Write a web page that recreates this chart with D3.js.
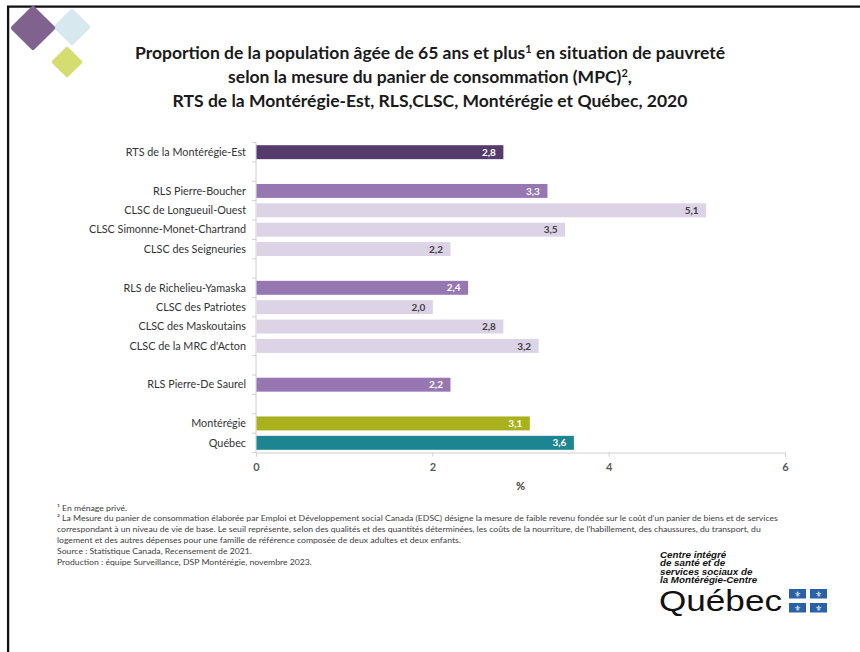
<!DOCTYPE html>
<html lang="fr">
<head>
<meta charset="utf-8">
<title>MPC 65 ans et plus</title>
<script src="https://d3js.org/d3.v7.min.js"></script>
<style>
  body { margin: 0; background: #fff; }
  svg { display: block; font-family: Lato, "Open Sans", sans-serif; }
</style>
</head>
<body>
<script>
// categories (empty string = gap between groups)
var categories = [
  "RTS de la Montérégie-Est", "",
  "RLS Pierre-Boucher", "CLSC de Longueuil-Ouest", "CLSC Simonne-Monet-Chartrand", "CLSC des Seigneuries", "",
  "RLS de Richelieu-Yamaska", "CLSC des Patriotes", "CLSC des Maskoutains", "CLSC de la MRC d'Acton", "",
  "RLS Pierre-De Saurel", "",
  "Montérégie", "Québec"
];
var values = [2.8, null, 3.3, 5.1, 3.5, 2.2, null, 2.4, 2.0, 2.8, 3.2, null, 2.2, null, 3.1, 3.6];
var levels = ["rts", null, "rls", "clsc", "clsc", "clsc", null, "rls", "clsc", "clsc", "clsc", null, "rls", null, "mont", "qc"];
var xTicks = [0, 2, 4, 6];

var titleLines = [
  ["Proportion de la population âgée de 65 ans et plus", "1", " en situation de pauvreté"],
  ["selon la mesure du panier de consommation (MPC)", "2", ","],
  ["RTS de la Montérégie-Est, RLS,CLSC, Montérégie et Québec, 2020", "", ""]
];
var notes = [
  "¹ En ménage privé.",
  "² La Mesure du panier de consommation élaborée par Emploi et Développement social Canada (EDSC) désigne la mesure de faible revenu fondée sur le coût d'un panier de biens et de services",
  "correspondant à un niveau de vie de base. Le seuil représente, selon des qualités et des quantités déterminées, les coûts de la nourriture, de l'habillement, des chaussures, du transport, du",
  "logement et des autres dépenses pour une famille de référence  composée de deux adultes et deux enfants.",
  "Source : Statistique Canada, Recensement de 2021.",
  "Production : équipe Surveillance, DSP Montérégie, novembre 2023."
];
var logoLines = ["Centre intégré", "de santé et de", "services sociaux de", "la Montérégie-Centre"];

var fills = { rts: "#553b6c", rls: "#9677b2", clsc: "#ddd3e7", mont: "#a9b11d", qc: "#1d8491" };
var labelFills = { rts: "#fff", rls: "#fff", clsc: "#404040", mont: "#fff", qc: "#fff" };

var W = 860, H = 652;
var svg = d3.select("body").append("svg").attr("width", W).attr("height", H);

// frame
svg.append("line").attr("x1", 8).attr("y1", 6).attr("x2", 8).attr("y2", H)
   .attr("stroke", "#111").attr("stroke-width", 2.5);
svg.append("line").attr("x1", 7).attr("y1", 6.5).attr("x2", W).attr("y2", 6.5)
   .attr("stroke", "#111").attr("stroke-width", 2.5);

// diamonds top-left
var diamonds = [
  { cx: 72, cy: 27, r: 19, c: "#d8e8ef" },
  { cx: 33, cy: 28, r: 23, c: "#80628f" },
  { cx: 67, cy: 62, r: 16, c: "#d6dd70" }
];
svg.append("g").selectAll("rect").data(diamonds).enter().append("rect")
  .attr("x", function(d) { return -d.r / Math.SQRT2; })
  .attr("y", function(d) { return -d.r / Math.SQRT2; })
  .attr("width", function(d) { return d.r * Math.SQRT2; })
  .attr("height", function(d) { return d.r * Math.SQRT2; })
  .attr("rx", 2)
  .attr("transform", function(d) { return "translate(" + d.cx + "," + d.cy + ") rotate(45)"; })
  .attr("fill", function(d) { return d.c; });
// cover the frame corner again
svg.append("rect").attr("x", 0).attr("y", 0).attr("width", W).attr("height", 5.3).attr("fill", "#fff");
svg.append("rect").attr("x", 0).attr("y", 0).attr("width", 6.8).attr("height", H).attr("fill", "#fff");

// title
var title = svg.append("g").attr("font-weight", "bold").attr("fill", "#1a1a1a").attr("text-anchor", "middle");
var titleBase = [59, 83, 107];
titleLines.forEach(function(parts, i) {
  var t = title.append("text").attr("x", 430).attr("y", titleBase[i]).attr("font-size", 17);
  t.append("tspan").text(parts[0]);
  if (parts[1]) t.append("tspan").attr("font-size", 11).attr("dy", -6).text(parts[1]);
  if (parts[2]) t.append("tspan").attr("dy", parts[1] ? 6 : 0).text(parts[2]);
});
// fit title font to reference width of the first line
var t0 = title.select("text").node().getComputedTextLength();
var titleSize = 17 * 591 / t0;
title.selectAll("text").attr("font-size", titleSize);

// scales
var x = d3.scaleLinear().domain([0, 6]).range([256, 785]);
var y = d3.scaleBand().domain(d3.range(categories.length)).range([142.5, 452.5])
  .paddingInner(0.28).paddingOuter(0.14);

// y axis line with ticks between categories
var axisColor = "#d0d0d0";
svg.append("line").attr("x1", x(0)).attr("x2", x(0))
  .attr("y1", y.range()[0]).attr("y2", y.range()[1])
  .attr("stroke", axisColor);
svg.append("g").selectAll("line").data(d3.range(categories.length + 1)).enter().append("line")
  .attr("x1", x(0) - 4).attr("x2", x(0))
  .attr("y1", function(i) { return y.range()[0] + i * y.step(); })
  .attr("y2", function(i) { return y.range()[0] + i * y.step(); })
  .attr("stroke", axisColor);

// x axis
var xAxis = svg.append("g").attr("transform", "translate(0," + y.range()[1] + ")")
  .call(d3.axisBottom(x).tickValues(xTicks).tickSize(4).tickPadding(7).tickFormat(d3.format("d")));
xAxis.select(".domain").attr("stroke", axisColor);
xAxis.selectAll(".tick line").attr("stroke", axisColor);
xAxis.selectAll(".tick text").attr("fill", "#595959").attr("font-size", 11)
  .attr("font-family", "Lato, sans-serif").attr("font-weight", "bold");
svg.append("text").attr("x", (x(0) + x(6)) / 2).attr("y", 490).attr("text-anchor", "middle")
  .attr("font-size", 11).attr("font-weight", "bold").attr("fill", "#404040").text("%");

// category labels
svg.append("g").selectAll("text").data(categories).enter().append("text")
  .attr("x", x(0) - 10)
  .attr("y", function(d, i) { return y(i) + y.bandwidth() / 2; })
  .attr("dy", "0.35em").attr("text-anchor", "end")
  .attr("font-size", 10.8).attr("fill", "#333")
  .text(function(d) { return d; });

// bars
var rows = categories.map(function(c, i) { return { i: i, v: values[i], lv: levels[i] }; })
  .filter(function(d) { return d.v !== null; });
svg.append("g").selectAll("rect").data(rows).enter().append("rect")
  .attr("x", x(0) + 0.5)
  .attr("y", function(d) { return y(d.i); })
  .attr("width", function(d) { return x(d.v) - x(0); })
  .attr("height", y.bandwidth())
  .attr("fill", function(d) { return fills[d.lv]; });

var fmt = function(v) { return d3.format(".1f")(v).replace(".", ","); };
svg.append("g").selectAll("text").data(rows).enter().append("text")
  .attr("x", function(d) { return x(d.v) - 7; })
  .attr("y", function(d) { return y(d.i) + y.bandwidth() / 2; })
  .attr("dy", "0.36em").attr("text-anchor", "end")
  .attr("font-size", 10).attr("font-weight", "bold")
  .attr("fill", function(d) { return labelFills[d.lv]; })
  .text(function(d) { return fmt(d.v); });

// footnotes (condensed: taller font squeezed horizontally)
var noteBase = [511, 521.5, 532, 543, 554, 565];
var noteG = svg.append("g").attr("fill", "#404040");
notes.forEach(function(n, i) {
  noteG.append("text").attr("x", 57).attr("y", noteBase[i]).attr("font-size", 7.8).text(n);
});
var n1 = noteG.selectAll("text").nodes()[1].getComputedTextLength();
var sx = 721 / n1;
noteG.attr("transform", "translate(57,0) scale(" + sx + ",1) translate(-57,0)");

// Québec logo
var logo = svg.append("g").attr("fill", "#111")
  .attr("transform", "translate(660,0) scale(1.18,1) translate(-660,0)");
logo.selectAll("text").data(logoLines).enter().append("text")
  .attr("x", 660).attr("y", function(d, i) { return 558 + i * 8.4; })
  .attr("font-family", "'Liberation Sans', Arial, sans-serif")
  .attr("font-size", 8.3).attr("font-weight", "bold").attr("font-style", "italic")
  .text(function(d) { return d; });
svg.append("text").attr("x", 659).attr("y", 611).attr("fill", "#111")
  .attr("font-family", "'Liberation Sans', Arial, sans-serif").attr("font-size", 29)
  .attr("textLength", 123).attr("lengthAdjust", "spacingAndGlyphs").text("Québec");
var flags = [[789, 589], [810, 589], [789, 603], [810, 603]];
var fl = svg.append("g");
fl.selectAll("rect").data(flags).enter().append("rect")
  .attr("x", function(d) { return d[0]; }).attr("y", function(d) { return d[1]; })
  .attr("width", 17).attr("height", 9.5).attr("fill", "#2a62a8");
fl.selectAll("text").data(flags).enter().append("text")
  .attr("x", function(d) { return d[0] + 8.5; }).attr("y", function(d) { return d[1] + 7.8; })
  .attr("text-anchor", "middle").attr("font-size", 8).attr("fill", "#fff")
  .attr("font-family", "DejaVu Sans").text("⚜");
</script>
</body>
</html>
